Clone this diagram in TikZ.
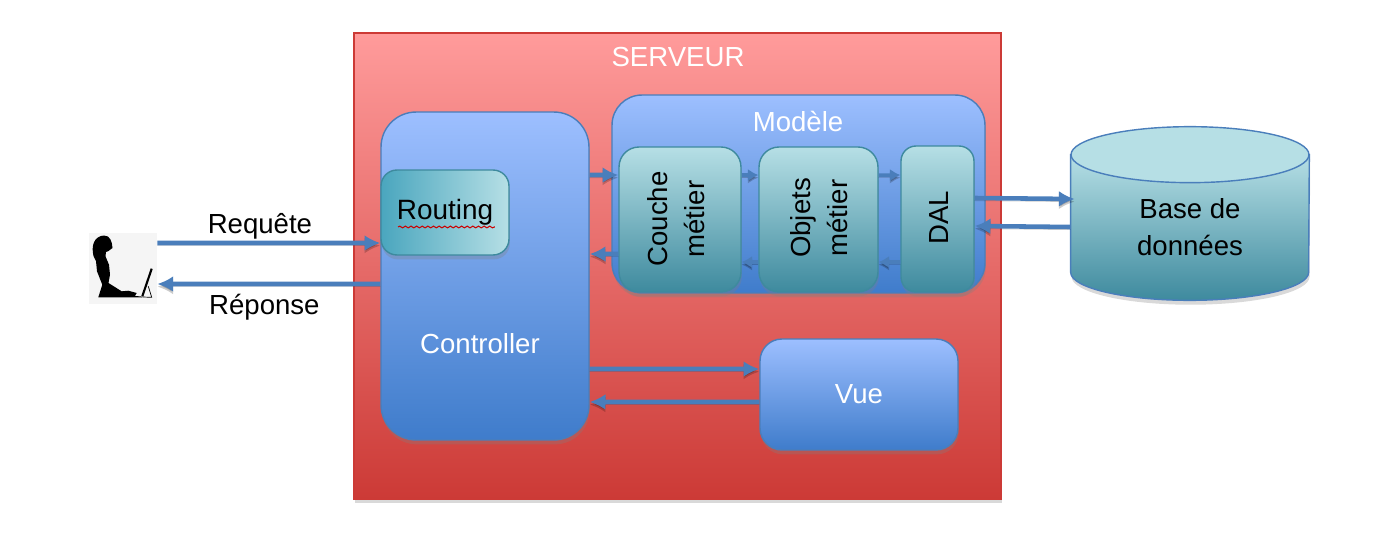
\documentclass[tikz,border=0pt]{standalone}
\usepackage{fontspec}
\setmainfont{Liberation Sans}
\usetikzlibrary{shapes.geometric, shadows, arrows.meta, decorations.pathmorphing}
\definecolor{srvTop}{HTML}{FF9B9B}
\definecolor{srvBot}{HTML}{CC3A36}
\definecolor{bluTop}{HTML}{9DBFFF}
\definecolor{bluBot}{HTML}{3F7CCB}
\definecolor{tealTop}{HTML}{B6DFE5}
\definecolor{tealBot}{HTML}{3E8A9E}
\definecolor{routeLeft}{HTML}{4AA6BE}
\definecolor{flowCol}{HTML}{4A7EBB}
\begin{document}
\begin{tikzpicture}[x=0.02cm, y=-0.02cm,
  txt/.style={font=\fontsize{15.7}{21}\selectfont, align=center},
  box/.style={draw=#1, line width=0.8pt, txt, drop shadow={opacity=.3, shadow xshift=.5pt, shadow yshift=-2.5pt}},
  blubox/.style={box=flowCol, top color=bluTop, bottom color=bluBot, text=white},
  tealbox/.style={box=tealBot, top color=tealTop, bottom color=tealBot, rounded corners=.4cm},
  flow/.style={draw=flowCol, line width=2.6pt, -{Latex[length=9pt, width=9pt]},
    preaction={draw=black, opacity=.2, transform canvas={yshift=-1.5pt}}},
  smallflow/.style={flow, line width=2pt, -{Latex[length=6pt, width=7pt]}}]
  \useasboundingbox (0, 0) rectangle (1380, 541);
  % serveur
  \node[box=srvBot, top color=srvTop, bottom color=srvBot, minimum width=12.94cm, minimum height=9.32cm] (serveur) at (677.5, 266) {};
  \node[txt, text=white] (serveurLabel) at (678, 57) {SERVEUR};
  % controller
  \node[blubox, rounded corners=.7cm, minimum width=4.16cm, minimum height=6.56cm] (ctrl) at (485, 276) {};
  \node[txt, text=white] (ctrlLabel) at (480, 344) {Controller};
  \node[box=tealBot, left color=routeLeft, right color=tealTop, rounded corners=.32cm, minimum width=2.56cm, minimum height=1.7cm, font=\fontsize{15.9}{21}\selectfont] (route) at (445, 212.5) {Routing};
  \draw[red!80!black, line width=.6pt, decorate, decoration={snake, amplitude=.5pt, segment length=3.2pt}]
    ([xshift=-.94cm, yshift=-.29cm]route.center) -- ([xshift=1cm, yshift=-.29cm]route.center);
  % modele
  \node[blubox, rounded corners=.6cm, minimum width=7.46cm, minimum height=3.96cm] (modele) at (798.5, 194) {};
  \node[txt, text=white] (modeleLabel) at (798, 121) {Modèle};
  \node[tealbox, minimum width=2.44cm, minimum height=2.9cm] (couche) at (680, 219.5) {};
  \node[txt, rotate=90] (coucheLabel) at (676, 219) {Couche\\métier};
  \node[tealbox, minimum width=2.38cm, minimum height=2.9cm] (objets) at (818.5, 219.5) {};
  \node[txt, rotate=90] (objetsLabel) at (819, 218) {Objets\\métier};
  \node[tealbox, rounded corners=.3cm, minimum width=1.46cm, minimum height=2.92cm] (dal) at (937.5, 219) {};
  \node[txt, rotate=90] (dalLabel) at (939, 218) {DAL};
  % vue
  \node[blubox, rounded corners=.44cm, minimum width=3.96cm, minimum height=2.22cm] (vue) at (859, 394.5) {Vue};
  % base
  \node[minimum width=4.76cm, minimum height=2.34cm] (base) at (1190, 213.5) {};
  \draw[flowCol, line width=.8pt, top color=tealTop, bottom color=tealBot, drop shadow={opacity=.3, shadow xshift=.5pt, shadow yshift=-2.5pt}]
    (base.north west) -- (base.south west) arc[start angle=180, end angle=360, x radius=2.38cm, y radius=.56cm] -- (base.north east) -- cycle;
  \node[ellipse, draw=flowCol, line width=.8pt, fill=tealTop, minimum width=4.76cm, minimum height=1.12cm] (baseTop) at (base.north) {};
  \node[txt] (baseLabel) at (1190, 227) {Base de\\données};
  % utilisateur
  \node[fill=black!4, minimum width=1.36cm, minimum height=1.42cm] (user) at (123, 268.5) {};
  \fill[black] (104, 235.5) .. controls (110, 235.5) and (112, 241) .. (112.5, 248) -- (108, 251.3) -- (106, 252) -- (105.5, 256.3) -- (109, 264.7) -- (110, 274.7) -- (108.5, 283) -- (121.7, 291.3) -- (128.3, 290.7) -- (136.7, 293) -- (135, 296) -- (141.7, 296.5) -- (141.7, 297.5) -- (98.3, 297.3) -- (102.3, 284.7) -- (97, 271.3) -- (96, 261) -- (93.5, 256) .. controls (91, 246) and (94, 236) .. (104, 235.5) -- cycle;
  \draw[black, line width=1.2pt] (151.7, 268.7) -- (142.3, 296.3);
  \draw[black, line width=.4pt] (142.3, 297) -- (151.7, 297.3) -- (148.3, 286.3);
  % fleches
  \draw[flow] ([yshift=.51cm]user.east) -- ([yshift=-.61cm]route.west) node[pos=.46, above=1pt, txt, inner sep=0pt] {Requête};
  \draw[flow] ([yshift=-.16cm]ctrl.west) -- ([yshift=-.31cm]user.east) node[pos=.52, below=4.7pt, txt, inner sep=0pt] {Réponse};
  \draw[flow] ([yshift=2.02cm]ctrl.east) -- ([yshift=.89cm]couche.west);
  \draw[flow] ([yshift=-.69cm]couche.west) -- ([yshift=.44cm]ctrl.east);
  \draw[smallflow] ([yshift=.89cm]couche.east) -- ([yshift=.89cm]objets.west);
  \draw[smallflow] ([yshift=-.85cm]objets.west) -- ([yshift=-.85cm]couche.east);
  \draw[smallflow] ([yshift=.89cm]objets.east) -- ([yshift=.88cm]dal.west);
  \draw[smallflow] ([yshift=-.86cm]dal.west) -- ([yshift=-.85cm]objets.east);
  \draw[flow] ([yshift=.42cm]dal.east) -- ([xshift=.08cm, yshift=.29cm]base.west);
  \draw[flow] ([yshift=-.27cm]base.west) -- ([yshift=-.14cm]dal.east);
  \draw[flow] ([yshift=-1.86cm]ctrl.east) -- ([yshift=.51cm]vue.west);
  \draw[flow] ([yshift=-.15cm]vue.west) -- ([yshift=-2.52cm]ctrl.east);
\end{tikzpicture}
\end{document}
